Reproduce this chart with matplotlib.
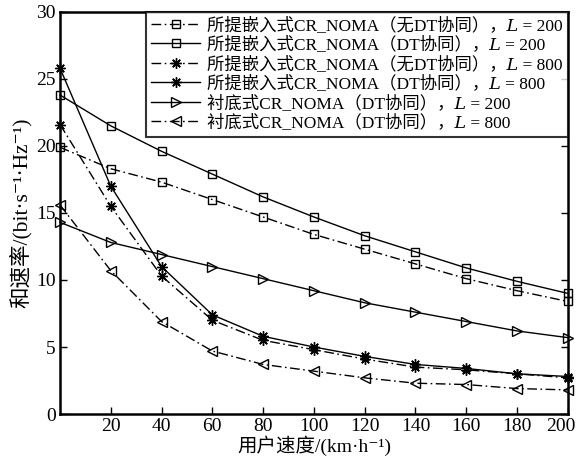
import matplotlib
matplotlib.use("Agg")
import matplotlib.pyplot as plt
from matplotlib.transforms import ScaledTranslation

plt.rcParams['font.family'] = ['Liberation Serif', 'DejaVu Serif', 'STIXGeneral', 'Noto Sans CJK SC']

speed = [0, 20, 40, 60, 80, 100, 120, 140, 160, 180, 200]

prop_nodt_200 = [19.9, 18.3, 17.3, 16.0, 14.7, 13.4, 12.3, 11.2, 10.1, 9.2, 8.4]
prop_dt_200 = [23.8, 21.5, 19.6, 17.9, 16.2, 14.7, 13.3, 12.1, 10.9, 9.9, 9.0]
prop_nodt_800 = [21.6, 15.5, 10.3, 7.0, 5.5, 4.8, 4.1, 3.5, 3.3, 3.0, 2.7]
prop_dt_800 = [25.8, 17.0, 11.0, 7.4, 5.8, 5.0, 4.3, 3.7, 3.4, 3.0, 2.8]
under_dt_200 = [14.3, 12.8, 11.9, 11.0, 10.1, 9.2, 8.3, 7.6, 6.9, 6.2, 5.7]
under_dt_800 = [15.6, 10.7, 6.9, 4.7, 3.7, 3.2, 2.7, 2.3, 2.2, 1.9, 1.8]

labels = [
    "所提嵌入式CR_NOMA（无DT协同），𝐿 = 200",
    "所提嵌入式CR_NOMA（DT协同），𝐿 = 200",
    "所提嵌入式CR_NOMA（无DT协同），𝐿 = 800",
    "所提嵌入式CR_NOMA（DT协同），𝐿 = 800",
    "衬底式CR_NOMA（DT协同），𝐿 = 200",
    "衬底式CR_NOMA（DT协同），𝐿 = 800",
]

dashdot = (0, (7, 2.5, 1.2, 2.5))

fig = plt.figure(figsize=(5.77, 4.58), dpi=100)
ax = fig.add_axes([0.104, 0.096, 0.880, 0.878])

series = [
    (prop_nodt_200, 's', dashdot, 6),
    (prop_dt_200, 's', '-', 6),
    (prop_nodt_800, (8, 2, 0), dashdot, 7.5),
    (prop_dt_800, (8, 2, 0), '-', 7.5),
    (under_dt_200, '>', '-', 7),
    (under_dt_800, '<', dashdot, 7),
]

for (vals, mk, ls, ms), lab in zip(series, labels):
    ax.plot(speed, vals, color='black', linestyle=ls, linewidth=1.0,
            marker=mk, markersize=ms, markerfacecolor='none',
            markeredgecolor='black', markeredgewidth=1.0, label=lab, clip_on=False)

ax.set_xlim(0, 200)
ax.set_ylim(0, 30)
ax.set_xticks([20, 40, 60, 80, 100, 120, 140, 160, 180, 200])
ax.set_yticks([0, 5, 10, 15, 20, 25, 30])
ax.tick_params(direction='in', length=5, width=1, labelsize=14, right=True, pad=3)
for s in ax.spines.values():
    s.set_linewidth(1.8)

# last x tick label nudged left so it stays inside the figure
last = ax.get_xticklabels()[-1]
last.set_transform(last.get_transform() + ScaledTranslation(-7 / 100, 0, fig.dpi_scale_trans))

ax.set_xlabel("用户速度/(km·h⁻¹)", fontsize=14, labelpad=0)
ax.set_ylabel("和速率/(bit·s⁻¹·Hz⁻¹)", fontsize=15.5, labelpad=3)

leg = ax.legend(loc='upper right', fontsize=12.5, frameon=True, fancybox=False,
                borderaxespad=0, handlelength=2.8, labelspacing=0.15,
                handletextpad=0.4, borderpad=0.3)
leg.get_frame().set_edgecolor('black')
leg.get_frame().set_linewidth(1.5)

fig.savefig("out.png", dpi=100)
